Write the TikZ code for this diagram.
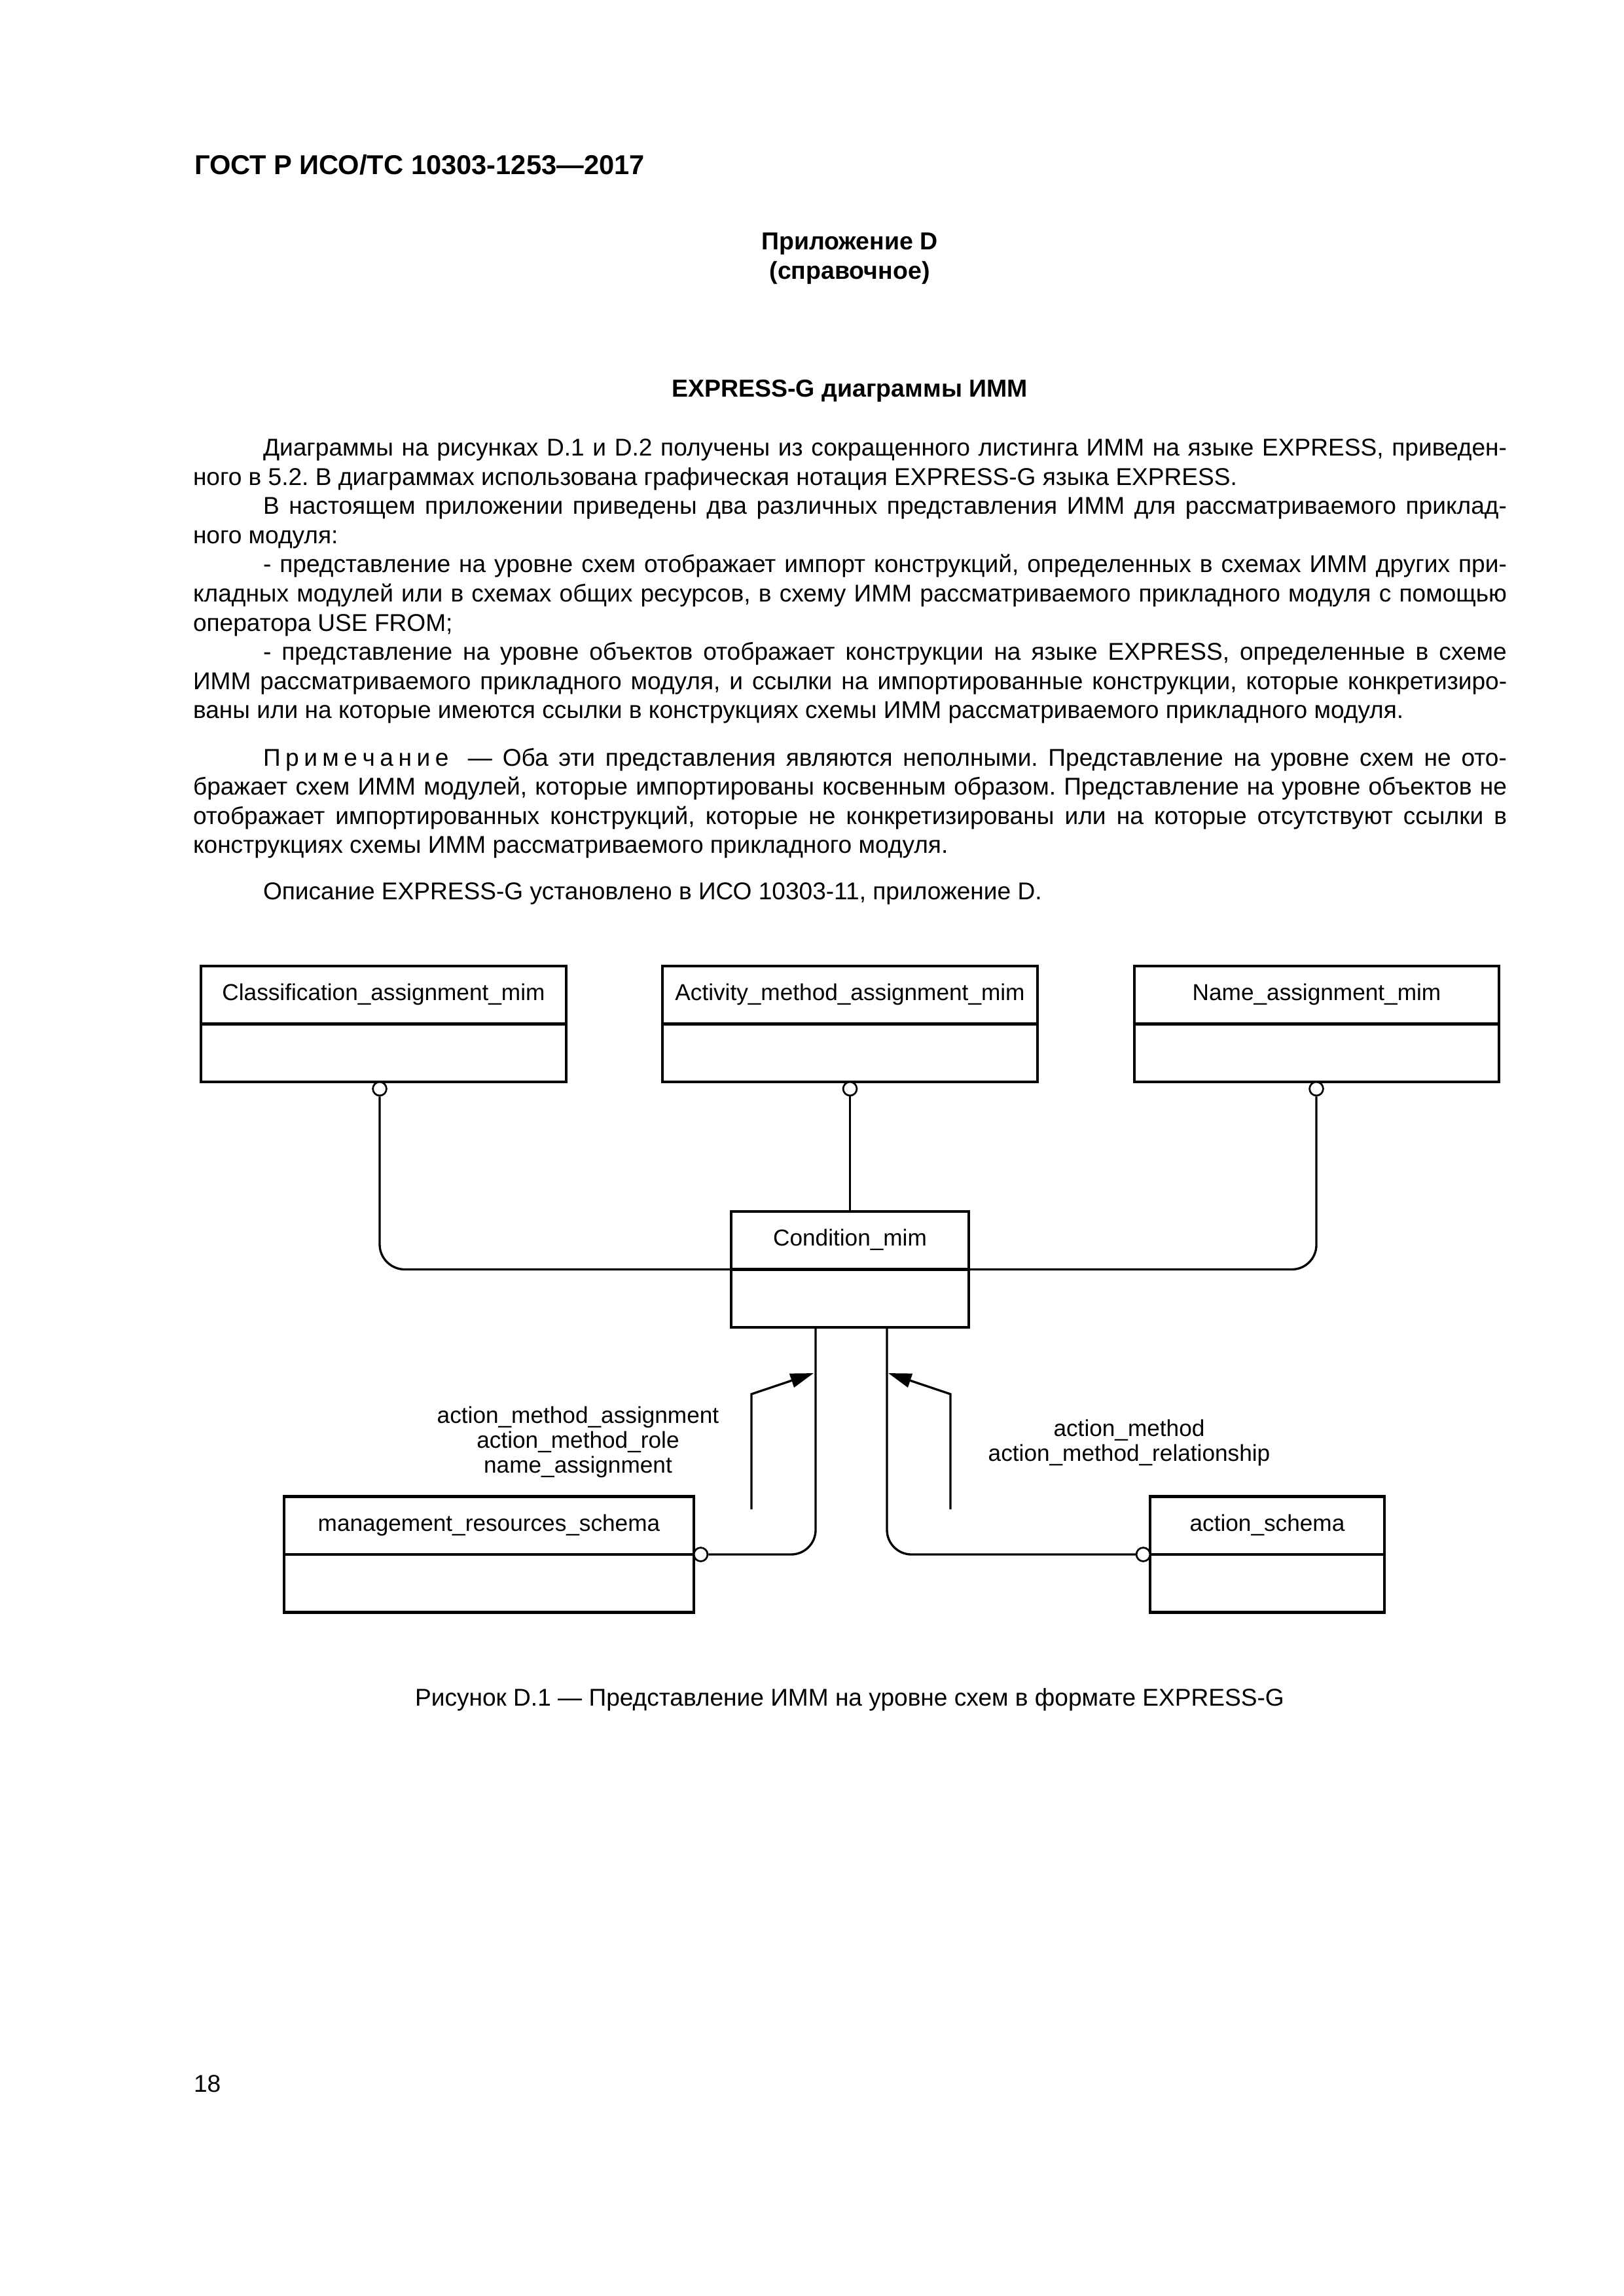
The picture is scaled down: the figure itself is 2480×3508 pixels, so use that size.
\documentclass[tikz,border=0pt]{standalone}
\usepackage{fontspec}
\setmainfont{Liberation Sans}
\usetikzlibrary{arrows.meta}
\frenchspacing

\newcommand\bodyfont{\fontsize{8.9pt}{10.7pt}\selectfont\frenchspacing}
\newcommand\diafont{\fontsize{8.45pt}{9.2pt}\selectfont}
\newcommand\FL[1]{\hbox to 481.7pt{#1}}
\newcommand\IL[1]{\hbox to 456pt{#1}}
\newcommand\ls{\kern1.8pt}

\begin{document}
\begin{tikzpicture}[x=0.24pt,y=-0.24pt,
  txt/.style={anchor=base west, inner sep=0, outer sep=0, font=\bodyfont},
  ctxt/.style={anchor=base, inner sep=0, outer sep=0, font=\bodyfont},
  btxt/.style={anchor=base, inner sep=0, outer sep=0, font=\fontsize{9pt}{11pt}\selectfont\bfseries},
  ebox/.style={draw, line width=1pt, inner sep=0, minimum height=42.48pt},
  divider/.style={line width=1pt},
  lbl/.style={anchor=base, inner sep=0, outer sep=0, font=\diafont},
  conn/.style={line width=0.8pt},
  circ/.style={circle, draw, line width=0.65pt, fill=white, inner sep=0, minimum size=5pt},
  arr/.style={conn, -{Triangle[length=8.5pt,width=5.2pt]}}]

\fill[white] (0,0) rectangle (2480,3508);
\useasboundingbox (0,0) rectangle (2480,3508);

% ---------- page text ----------
\node[txt, font=\fontsize{10pt}{12pt}\selectfont\bfseries] (hdr) at (297,266.7) {ГОСТ Р ИСО/ТС 10303-1253—2017};
\node[btxt] (app) at (1298,381.7) {Приложение D};
\node[btxt] (spr) at (1298,426.7) {(справочное)};
\node[btxt] (ttl) at (1298,606.7) {EXPRESS-G диаграммы ИММ};

\node[txt] (l1) at (402,697) {\IL{Диаграммы на рисунках D.1 и D.2 получены из сокращенного листинга ИММ на языке EXPRESS, приведен-}};
\node[txt] (l2) at (295,741.5) {ного в 5.2. В диаграммах использована графическая нотация EXPRESS-G языка EXPRESS.};
\node[txt] (l3) at (402,786) {\IL{В настоящем приложении приведены два различных представления ИММ для рассматриваемого приклад-}};
\node[txt] (l4) at (295,830.5) {ного модуля:};
\node[txt] (l5) at (402,875) {\IL{- представление на уровне схем отображает импорт конструкций, определенных в схемах ИММ других при-}};
\node[txt] (l6) at (295,919.5) {\FL{кладных модулей или в схемах общих ресурсов, в схему ИММ рассматриваемого прикладного модуля с помощью}};
\node[txt] (l7) at (295,964) {оператора USE FROM;};
\node[txt] (l8) at (402,1008.5) {\IL{- представление на уровне объектов отображает конструкции на языке EXPRESS, определенные в схеме}};
\node[txt] (l9) at (295,1053) {\FL{ИММ рассматриваемого прикладного модуля, и ссылки на импортированные конструкции, которые конкретизиро-}};
\node[txt] (l10) at (295,1097.5) {ваны или на которые имеются ссылки в конструкциях схемы ИММ рассматриваемого прикладного модуля.};
\node[txt] (l11) at (402,1170) {\IL{П\ls р\ls и\ls м\ls е\ls ч\ls а\ls н\ls и\ls е\hskip 5pt plus 2pt— Оба эти представления являются неполными. Представление на уровне схем не ото-}};
\node[txt] (l12) at (295,1214.5) {\FL{бражает схем ИММ модулей, которые импортированы косвенным образом. Представление на уровне объектов не}};
\node[txt] (l13) at (295,1259) {\FL{отображает импортированных конструкций, которые не конкретизированы или на которые отсутствуют ссылки в}};
\node[txt] (l14) at (295,1303.5) {конструкциях схемы ИММ рассматриваемого прикладного модуля.};
\node[txt] (l15) at (402,1374) {Описание EXPRESS-G установлено в ИСО 10303-11, приложение D.};

\node[ctxt] (cap) at (1298,2606) {Рисунок D.1 — Представление ИММ на уровне схем в формате EXPRESS-G};
\node[txt] (pg) at (296,3196) {18};

% ---------- boxes ----------
\node[ebox, minimum width=133.92pt] (cls) at (586,1564.5) {};
\node[ebox, minimum width=137.52pt] (act) at (1298.5,1564.5) {};
\node[ebox, minimum width=133.68pt] (nam) at (2011.5,1564.5) {};
\node[ebox, minimum width=87.12pt]  (cond) at (1298.5,1939.5) {};
\node[ebox, minimum width=150.24pt] (mrs) at (747,2375) {};
\node[ebox, minimum width=85.92pt]  (acs) at (1936,2375) {};

\foreach \b in {cls,act,nam,cond,mrs,acs} \draw[divider] (\b.west) -- (\b.east);

\node[lbl] (clsT) at (586,1528) {Classification\_assignment\_mim};
\node[lbl] (actT) at (1298.5,1528) {Activity\_method\_assignment\_mim};
\node[lbl] (namT) at (2011.5,1528) {Name\_assignment\_mim};
\node[lbl] (condT) at (1298.5,1903) {Condition\_mim};
\node[lbl] (mrsT) at (747,2339) {management\_resources\_schema};
\node[lbl] (acsT) at (1936,2339) {action\_schema};

% ---------- circles ----------
\node[circ] (c1) at (580,1663.5) {};
\node[circ] (c2) at (1298.5,1663.5) {};
\node[circ] (c3) at (2011,1663.5) {};
\node[circ] (c4) at (1070.5,2375) {};
\node[circ] (c5) at (1746.5,2375) {};

% ---------- connectors ----------
\draw[conn, rounded corners=9.2pt] (c1.south) |- (cond.west);
\draw[conn] (c2.south) -- (cond.north);
\draw[conn, rounded corners=9pt] (c3.south) |- (cond.east);
\draw[conn, rounded corners=9pt] (c4.east) -| ([xshift=-12.6pt]cond.south);
\draw[conn, rounded corners=9pt] (c5.west) -| ([xshift=13.56pt]cond.south);

% ---------- reference arrows ----------
\coordinate (a1s) at (1148,2306);
\coordinate (a1b) at (1148,2130);
\coordinate (a1t) at (1243,2098);
\coordinate (a2s) at (1452,2306);
\coordinate (a2b) at (1452,2130);
\coordinate (a2t) at (1357,2098);
\draw[arr] (a1s) -- (a1b) -- (a1t);
\draw[arr] (a2s) -- (a2b) -- (a2t);

\node[lbl] (la) at (883,2174) {action\_method\_assignment};
\node[lbl] (lb) at (883,2212) {action\_method\_role};
\node[lbl] (lc) at (883,2250) {name\_assignment};
\node[lbl] (ra) at (1725,2194) {action\_method};
\node[lbl] (rb) at (1725,2232) {action\_method\_relationship};

\end{tikzpicture}
\end{document}
